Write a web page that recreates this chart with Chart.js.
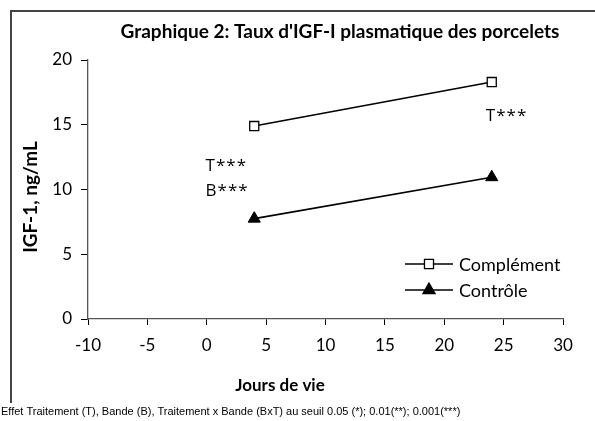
<!DOCTYPE html>
<html>
<head>
<meta charset="utf-8">
<script src="https://cdn.jsdelivr.net/npm/chart.js@4"></script>
<style>
html,body{margin:0;padding:0;background:#fff;}
#wrap{position:relative;width:595px;height:421px;}
</style>
</head>
<body>
<div id="wrap"><canvas id="c" width="595" height="421"></canvas></div>
<script>
const days = [4, 24];
const complement = [14.9, 18.3];
const controle = [7.75, 10.95];
const seriesNames = ['Complément', 'Contrôle'];
const xTicks = [-10, -5, 0, 5, 10, 15, 20, 25, 30];
const yTicks = [0, 5, 10, 15, 20];
const titleText = "Graphique 2: Taux d'IGF-I plasmatique des porcelets";
const xTitle = 'Jours de vie';
const yTitle = 'IGF-1, ng/mL';
const footText = 'Effet Traitement (T), Bande (B), Traitement x Bande (BxT) au seuil 0.05 (*); 0.01(**); 0.001(***)';
const annotations = [
  {x: -0.1, y: 11.8, text: 'T***'},
  {x: -0.1, y: 9.85, text: 'B***'},
  {x: 23.5, y: 15.7, text: 'T***'}
];

const FONT = 'Lato, "Open Sans", sans-serif';

const extras = {
  id: 'extras',
  afterDraw(chart) {
    const ctx = chart.ctx;
    const xs = chart.scales.x, ys = chart.scales.y;
    ctx.save();
    // frame
    ctx.strokeStyle = '#444';
    ctx.lineWidth = 2;
    ctx.beginPath();
    ctx.moveTo(11, 403); ctx.lineTo(11, 11); ctx.lineTo(595, 11);
    ctx.stroke();
    // title
    ctx.fillStyle = '#000';
    ctx.textAlign = 'center'; ctx.textBaseline = 'middle';
    ctx.font = 'bold 19px ' + FONT;
    ctx.fillText(titleText, 340, 32);
    // axis titles
    ctx.font = 'bold 17px ' + FONT;
    ctx.fillText(xTitle, 280, 386);
    ctx.save();
    ctx.font = 'bold 19px ' + FONT;
    ctx.translate(31, 197); ctx.rotate(-Math.PI/2);
    ctx.fillText(yTitle, 0, 0);
    ctx.restore();
    // annotations
    ctx.font = '17px "Open Sans", sans-serif';
    ctx.textAlign = 'left';
    ctx.letterSpacing = '1px';
    annotations.forEach(a => ctx.fillText(a.text, xs.getPixelForValue(a.x), ys.getPixelForValue(a.y)));
    ctx.letterSpacing = '0px';
    // legend
    const ds = chart.data.datasets;
    ctx.font = '18px ' + FONT;
    ds.forEach((d, i) => {
      const y = 264 + i * 26;
      ctx.strokeStyle = '#000'; ctx.lineWidth = 1.5;
      ctx.beginPath(); ctx.moveTo(405, y); ctx.lineTo(453, y); ctx.stroke();
      ctx.fillStyle = d.pointBackgroundColor;
      ctx.strokeStyle = '#000';
      ctx.lineWidth = 1.3;
      ctx.beginPath();
      if (d.pointStyle === 'rect') {
        const s = Math.SQRT1_2 * d.pointRadius;
        ctx.rect(429 - s, y - s, 2*s, 2*s);
      } else {
        const r = d.pointRadius;
        ctx.moveTo(429, y - r);
        ctx.lineTo(429 + r*Math.sin(2*Math.PI/3), y - r*Math.cos(2*Math.PI/3));
        ctx.lineTo(429 + r*Math.sin(4*Math.PI/3), y - r*Math.cos(4*Math.PI/3));
        ctx.closePath();
      }
      ctx.fill(); ctx.stroke();
      ctx.fillStyle = '#000';
      ctx.textAlign = 'left';
      ctx.fillText(d.label, 459, y + 1);
    });
    // footer
    ctx.font = '11px "Liberation Sans", Arial, sans-serif';
    ctx.textAlign = 'left'; ctx.textBaseline = 'middle';
    ctx.fillText(footText, 1, 412, 470);
    ctx.restore();
  }
};

new Chart(document.getElementById('c'), {
  type: 'scatter',
  data: {
    datasets: [
      {
        label: seriesNames[0],
        data: days.map((d, i) => ({x: d, y: complement[i]})),
        showLine: true,
        borderColor: '#000', borderWidth: 1.6,
        pointStyle: 'rect', pointRadius: 6.4,
        pointBackgroundColor: '#fff', pointBorderColor: '#000', pointBorderWidth: 1.3
      },
      {
        label: seriesNames[1],
        data: days.map((d, i) => ({x: d, y: controle[i]})),
        showLine: true,
        borderColor: '#000', borderWidth: 1.6,
        pointStyle: 'triangle', pointRadius: 7,
        pointBackgroundColor: '#000', pointBorderColor: '#000', pointBorderWidth: 1
      }
    ]
  },
  options: {
    responsive: false,
    animation: false,
    events: [],
    layout: {padding: {left: 0, top: 60, right: 32, bottom: 0}},
    plugins: {legend: {display: false}, tooltip: {enabled: false}, title: {display: false}},
    scales: {
      x: {
        type: 'linear', min: -10, max: 30,
        afterBuildTicks: s => { s.ticks = xTicks.map(v => ({value: v})); },
        afterFit: s => { s.height = 102; },
        grid: {display: true, drawOnChartArea: false, drawTicks: true, tickLength: 6, color: '#000'},
        border: {display: true, color: '#555', width: 1.3},
        ticks: {color: '#000', font: {family: FONT, size: 17}, padding: 10}
      },
      y: {
        type: 'linear', min: 0, max: 20,
        afterBuildTicks: s => { s.ticks = yTicks.map(v => ({value: v})); },
        afterFit: s => { s.width = 88; },
        grid: {display: true, drawOnChartArea: false, drawTicks: true, tickLength: 7, color: '#000'},
        border: {display: true, color: '#555', width: 1.3},
        ticks: {color: '#000', font: {family: FONT, size: 17}, padding: 9}
      }
    }
  },
  plugins: [extras]
});
</script>
</body>
</html>
